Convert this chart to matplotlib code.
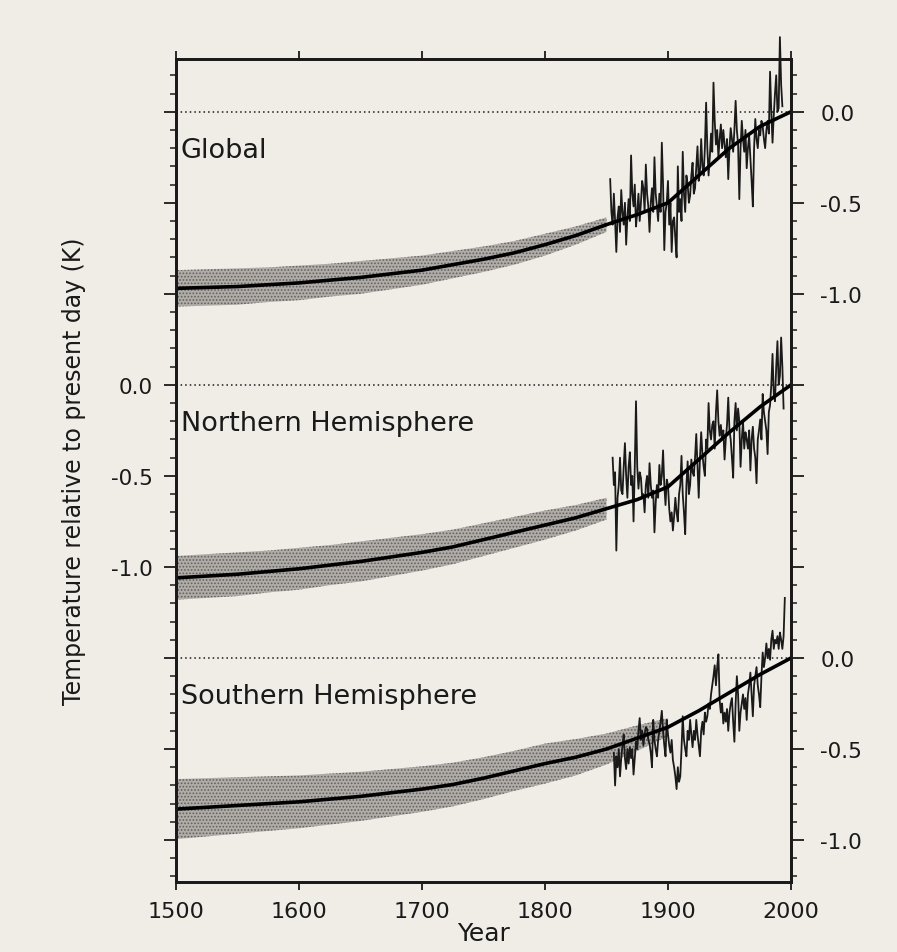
import numpy as np
import matplotlib
matplotlib.use('Agg')
import matplotlib.pyplot as plt

plt.rcParams['font.family'] = ['DejaVu Sans']
plt.rcParams['hatch.linewidth'] = 0.8

# ---- data (K relative to present day) ----
smooth_years = [1500, 1525, 1550, 1575, 1600, 1625, 1650, 1675, 1700, 1725, 1750,
                1775, 1800, 1825, 1850, 1875, 1900, 1925, 1950, 1975, 2000]
global_smooth = [-0.97, -0.965, -0.96, -0.95, -0.94, -0.925, -0.91, -0.89, -0.87, -0.84, -0.81,
                 -0.775, -0.73, -0.68, -0.62, -0.565, -0.50, -0.35, -0.20, -0.08, 0.0]
nh_smooth = [-1.06, -1.05, -1.04, -1.025, -1.01, -0.99, -0.97, -0.945, -0.92, -0.89, -0.85,
             -0.81, -0.77, -0.73, -0.68, -0.63, -0.56, -0.41, -0.26, -0.12, 0.0]
sh_smooth = [-0.83, -0.82, -0.81, -0.80, -0.79, -0.775, -0.76, -0.74, -0.72, -0.695, -0.66,
             -0.62, -0.58, -0.545, -0.50, -0.44, -0.38, -0.29, -0.19, -0.09, 0.0]

# half width of the shaded uncertainty band
global_band = [0.10, 0.10, 0.10, 0.095, 0.095, 0.09, 0.09, 0.085, 0.08, 0.075, 0.07,
               0.065, 0.06, 0.05, 0.04]
nh_band = [0.12, 0.12, 0.12, 0.115, 0.115, 0.11, 0.11, 0.105, 0.10, 0.095, 0.09,
           0.085, 0.08, 0.07, 0.06]
sh_band = [0.165, 0.16, 0.155, 0.15, 0.145, 0.14, 0.135, 0.13, 0.125, 0.12, 0.115,
           0.11, 0.11, 0.10, 0.085, 0.07, 0.05]

# instrumental record, one value per year
global_start = 1853
global_temp = [
    -0.37, -0.55, -0.62, -0.45, -0.60, -0.77, -0.58, -0.52, -0.66, -0.43,   # 1853-
    -0.55, -0.62, -0.50, -0.73, -0.58, -0.48, -0.60, -0.24, -0.45, -0.52,   # 1863-
    -0.40, -0.63, -0.55, -0.45, -0.60, -0.50, -0.38, -0.42, -0.55, -0.29,   # 1873-
    -0.45, -0.52, -0.66, -0.50, -0.42, -0.55, -0.25, -0.45, -0.52, -0.60,   # 1883-
    -0.45, -0.55, -0.17, -0.40, -0.76, -0.55, -0.50, -0.38, -0.62, -0.50,   # 1893-
    -0.77, -0.60, -0.58, -0.70, -0.80, -0.30, -0.55, -0.48, -0.60, -0.22,   # 1903-
    -0.45, -0.55, -0.35, -0.40, -0.50, -0.46, -0.35, -0.28, -0.45, -0.42,   # 1913-
    -0.30, -0.19, -0.38, -0.33, -0.15, -0.30, -0.35, -0.20, 0.05, -0.20,    # 1923-
    -0.35, -0.25, -0.12, -0.22, 0.16, -0.05, -0.18, -0.10, -0.25, -0.15,    # 1933-
    -0.07, -0.20, -0.10, -0.18, -0.25, -0.15, -0.37, -0.20, -0.09, -0.15,   # 1943-
    -0.22, -0.10, 0.06, -0.10, -0.18, -0.48, -0.20, -0.05, -0.15, -0.22,    # 1953-
    -0.10, -0.31, -0.20, -0.13, -0.25, -0.38, -0.52, -0.20, -0.04, -0.15,   # 1963-
    -0.20, -0.10, -0.13, -0.05, -0.08, -0.15, -0.20, -0.10, -0.05, -0.12,   # 1973-
    0.22, 0.00, -0.17, -0.02, 0.10, 0.20, 0.00, 0.02, 0.41, 0.15,           # 1983-
    0.03,                                                                   # 1993
]

nh_start = 1855
nh_temp = [
    -0.40, -0.55, -0.48, -0.91, -0.62, -0.55, -0.40, -0.58, -0.60, -0.45,   # 1855-
    -0.32, -0.50, -0.62, -0.45, -0.37, -0.55, -0.50, -0.75, -0.45, -0.09,   # 1865-
    -0.45, -0.57, -0.48, -0.51, -0.62, -0.60, -0.70, -0.55, -0.50, -0.62,   # 1875-
    -0.43, -0.55, -0.62, -0.58, -0.81, -0.65, -0.55, -0.62, -0.44, -0.55,   # 1885-
    -0.50, -0.36, -0.55, -0.66, -0.52, -0.55, -0.68, -0.75, -0.70, -0.80,   # 1895-
    -0.72, -0.62, -0.70, -0.75, -0.60, -0.55, -0.39, -0.60, -0.70, -0.82,   # 1905-
    -0.55, -0.42, -0.60, -0.55, -0.41, -0.48, -0.50, -0.40, -0.27, -0.45,   # 1915-
    -0.62, -0.40, -0.26, -0.38, -0.45, -0.50, -0.30, -0.35, -0.10, -0.25,   # 1925-
    -0.30, -0.22, -0.20, -0.35, -0.15, -0.03, -0.20, -0.28, -0.22, -0.30,   # 1935-
    -0.25, -0.41, -0.30, -0.22, -0.07, -0.25, -0.30, -0.40, -0.51, -0.20,   # 1945-
    -0.10, -0.25, -0.13, -0.20, -0.45, -0.30, -0.20, -0.35, -0.26, -0.30,   # 1955-
    -0.35, -0.25, -0.47, -0.30, -0.23, -0.35, -0.40, -0.54, -0.30, -0.25,   # 1965-
    -0.19, -0.30, -0.05, -0.15, -0.20, -0.25, -0.38, -0.15, -0.11, 0.00,    # 1975-
    0.17, -0.05, -0.09, 0.10, 0.24, 0.00, 0.05, 0.26, 0.10, -0.13,          # 1985-
]

sh_start = 1856
sh_temp = [
    -0.52, -0.70, -0.54, -0.60, -0.50, -0.65, -0.55, -0.48, -0.42, -0.55,   # 1856-
    -0.61, -0.50, -0.58, -0.49, -0.55, -0.50, -0.64, -0.55, -0.46, -0.50,   # 1866-
    -0.40, -0.33, -0.45, -0.40, -0.48, -0.42, -0.38, -0.39, -0.45, -0.47,   # 1876-
    -0.52, -0.60, -0.34, -0.45, -0.50, -0.54, -0.45, -0.40, -0.35, -0.29,   # 1886-
    -0.40, -0.48, -0.54, -0.34, -0.42, -0.48, -0.52, -0.45, -0.56, -0.60,   # 1896-
    -0.65, -0.72, -0.60, -0.68, -0.65, -0.50, -0.32, -0.45, -0.50, -0.54,   # 1906-
    -0.40, -0.45, -0.34, -0.42, -0.49, -0.40, -0.45, -0.34, -0.42, -0.48,   # 1916-
    -0.54, -0.40, -0.35, -0.42, -0.30, -0.35, -0.32, -0.25, -0.28, -0.20,   # 1926-
    -0.15, -0.10, -0.04, -0.15, -0.05, 0.02, -0.23, -0.30, -0.25, -0.36,    # 1936-
    -0.30, -0.35, -0.28, -0.40, -0.30, -0.25, -0.22, -0.35, -0.46, -0.25,   # 1946-
    -0.10, -0.20, -0.40, -0.30, -0.25, -0.20, -0.28, -0.22, -0.34, -0.20,   # 1956-
    -0.15, -0.08, -0.20, -0.32, -0.15, -0.10, -0.05, -0.15, -0.20, -0.27,   # 1966-
    -0.10, 0.03, -0.05, 0.00, 0.08, 0.00, 0.05, -0.01, 0.10, 0.15,          # 1976-
    0.05, 0.10, 0.08, 0.12, 0.05, 0.14, 0.10, 0.05, 0.12, 0.33,             # 1986-
]

panel_names = ['Global', 'Northern Hemisphere', 'Southern Hemisphere']
panel_offsets = [1.5, 0.0, -1.5]

paper = '#efede5'
ink = '#1a1a1a'

fig = plt.figure(figsize=(8.97, 9.53), dpi=100, facecolor=paper)
ax = fig.add_axes([0.1962, 0.0735, 0.6856, 0.8636], facecolor=paper)

panels = [
    (global_smooth, global_band, global_start, global_temp),
    (nh_smooth, nh_band, nh_start, nh_temp),
    (sh_smooth, sh_band, sh_start, sh_temp),
]

for (smooth, band, start, temp), name, off in zip(panels, panel_names, panel_offsets):
    sm = np.array(smooth) + off
    nb = len(band)
    by = np.array(smooth_years[:nb])
    bw = np.array(band)
    ax.fill_between(by, sm[:nb] - bw, sm[:nb] + bw, facecolor='#a9a6a3',
                    edgecolor='#5e5a57', hatch='.....', linewidth=0, alpha=0.9, zorder=1)
    ax.axhline(off, color=ink, linestyle=(0, (1, 2)), linewidth=1.1, zorder=2)
    yrs = np.arange(start, start + len(temp))
    ax.plot(yrs, np.array(temp) + off, color=ink, linewidth=1.3, zorder=3, clip_on=False)
    ax.plot(smooth_years, sm, color='black', linewidth=2.6, zorder=4)
    ax.text(1504, off - 0.21, name, fontsize=19.5, color=ink, va='center', ha='left')

ax.set_xlim(1500, 2000)
ax.set_ylim(-2.73, 1.79)

# y ticks: left side labels only for the middle panel
major = np.arange(-2.5, 1.51, 0.5)
minor = np.arange(-2.7, 1.75, 0.1)
left_labels = {0.0: '0.0', -0.5: '-0.5', -1.0: '-1.0'}
ax.set_yticks(major)
ax.set_yticklabels([left_labels.get(round(v, 1), '') for v in major])
ax.set_yticks(minor, minor=True)

ax2 = ax.twinx()
ax2.set_ylim(ax.get_ylim())
right_labels = {1.5: '0.0', 1.0: '-0.5', 0.5: '-1.0', -1.5: '0.0', -2.0: '-0.5', -2.5: '-1.0'}
ax2.set_yticks(major)
ax2.set_yticklabels([right_labels.get(round(v, 1), '') for v in major])
ax2.set_yticks(minor, minor=True)

ax.set_xticks([1500, 1600, 1700, 1800, 1900, 2000])
ax.tick_params(axis='x', which='major', direction='out', length=6, width=1.3,
               labelsize=16, top=True, colors=ink, pad=8)
ax.tick_params(axis='y', which='major', direction='out', length=9, width=1.3,
               labelsize=15.5, colors=ink, pad=8)
ax.tick_params(axis='y', which='minor', direction='out', length=4, width=1.1, colors=ink)
ax2.tick_params(axis='y', which='major', direction='out', length=9, width=1.3,
                labelsize=15.5, colors=ink, pad=12)
ax2.tick_params(axis='y', which='minor', direction='out', length=4, width=1.1, colors=ink)

for a in (ax, ax2):
    for s in a.spines.values():
        s.set_linewidth(2.0)
        s.set_color(ink)

ax.set_xlabel('Year', fontsize=18, color=ink, labelpad=0)
ax.set_ylabel('Temperature relative to present day (K)', fontsize=17, color=ink, labelpad=18)

fig.savefig('out.png', dpi=100, facecolor=paper)
